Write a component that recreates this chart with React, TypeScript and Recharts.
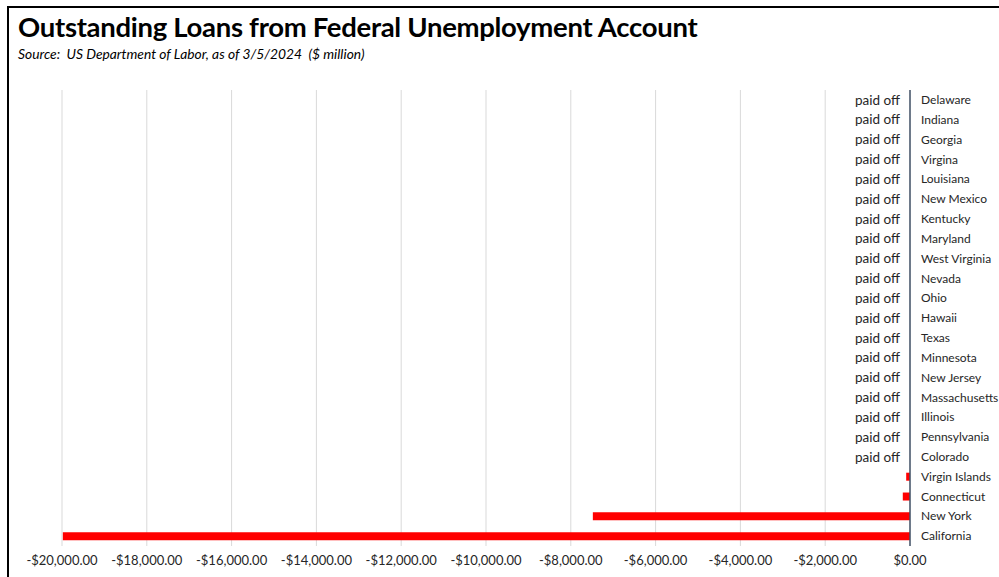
import { BarChart, Bar, XAxis, YAxis, CartesianGrid } from 'recharts'

const STATES = [
  'Delaware', 'Indiana', 'Georgia', 'Virgina', 'Louisiana', 'New Mexico', 'Kentucky',
  'Maryland', 'West Virginia', 'Nevada', 'Ohio', 'Hawaii', 'Texas', 'Minnesota',
  'New Jersey', 'Massachusetts', 'Illinois', 'Pennsylvania', 'Colorado',
  'Virgin Islands', 'Connecticut', 'New York', 'California',
]

// $ million outstanding (negative = owed), 0 = paid off
const LOANS = [
  0, 0, 0, 0, 0, 0, 0, 0, 0, 0, 0, 0, 0, 0, 0, 0, 0, 0, 0,
  -90, -170, -7480, -19980,
]

const X_TICKS = [-20000, -18000, -16000, -14000, -12000, -10000, -8000, -6000, -4000, -2000, 0]

const data = STATES.map((name, i) => ({ name, loan: LOANS[i] }))

const FONT = 'Lato, "Open Sans", sans-serif'

const fmtMoney = (v: number) => {
  const s = Math.abs(v).toLocaleString('en-US', { minimumFractionDigits: 2, maximumFractionDigits: 2 })
  return (v < 0 ? '-$' : '$') + s
}

// state name right of the axis, "paid off" left of it when nothing is owed
function StateTick(props: any) {
  const { x, y, payload, index } = props
  const paidOff = LOANS[index] === 0
  return (
    <g>
      <text x={x} y={y} dy="0.35em" textAnchor="start" fontSize={12} fontFamily={FONT} fill="#262626">
        {payload.value}
      </text>
      {paidOff && (
        <text x={x - 21} y={y} dy="0.35em" textAnchor="end" fontSize={13.5} fontFamily={FONT} fill="#262626">
          paid off
        </text>
      )}
    </g>
  )
}

export default function App() {
  return (
    <div
      style={{
        position: 'absolute',
        left: 0,
        top: 0,
        width: 999,
        height: 577,
        background: '#fff',
        overflow: 'hidden',
        fontFamily: FONT,
      }}
    >
      <div
        style={{
          position: 'absolute',
          left: 7,
          top: 6,
          width: 1100,
          height: 700,
          borderTop: '2px solid #000',
          borderLeft: '2px solid #000',
        }}
      />
      <div
        style={{
          position: 'absolute',
          left: 18,
          top: 10,
          fontSize: 27.5,
          fontWeight: 700,
          color: '#000',
          whiteSpace: 'nowrap',
          letterSpacing: -0.3,
        }}
      >
        Outstanding Loans from Federal Unemployment Account
      </div>
      <div
        style={{
          position: 'absolute',
          left: 18,
          top: 45,
          fontSize: 13.8,
          fontStyle: 'italic',
          color: '#000',
          whiteSpace: 'nowrap',
        }}
      >
        Source:&nbsp; US Department of Labor, as of 3/5/2024&nbsp; ($ million)
      </div>
      <div style={{ position: 'absolute', left: 0, top: 0 }}>
        <BarChart
          width={999}
          height={577}
          data={data}
          layout="vertical"
          margin={{ top: 90, right: 0, left: 62, bottom: 0 }}
          barCategoryGap={0}
        >
          <CartesianGrid horizontal={false} stroke="#d9d9d9" strokeWidth={1} />
          <XAxis
            type="number"
            domain={[-20000, 0]}
            ticks={X_TICKS}
            tickFormatter={fmtMoney}
            axisLine={false}
            tickLine={false}
            tickSize={0}
            tickMargin={10}
            height={31}
            tick={{ fontSize: 13, fill: '#262626', fontFamily: FONT }}
            interval={0}
            allowDataOverflow
          />
          <YAxis
            type="category"
            dataKey="name"
            orientation="right"
            width={89}
            axisLine={{ stroke: '#44546a', strokeWidth: 1.5 }}
            tickLine={false}
            tickSize={0}
            tickMargin={11}
            interval={0}
            tick={StateTick}
          />
          <Bar dataKey="loan" fill="#ff0000" barSize={8} isAnimationActive={false} />
        </BarChart>
      </div>
    </div>
  )
}
